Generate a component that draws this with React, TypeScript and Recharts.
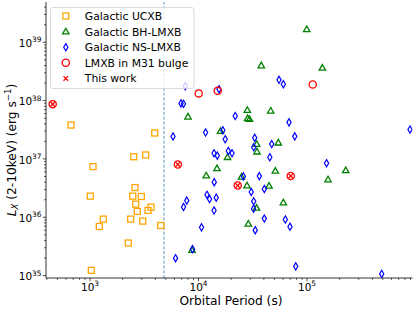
import { Legend, ReferenceLine, Scatter, ScatterChart, XAxis, YAxis } from "recharts";

const FONT = "DejaVu Sans, sans-serif";

// Galactic UCXB: orbital period (s), L_X (erg/s)
const ucxbPeriod = [668, 3950, 2530, 3260, 1066, 2600, 1006, 2475, 2970, 2637, 2729, 3650, 3425, 1326, 2372, 3060, 1218, 4485, 2254, 1028];
const ucxbLx = [3.81e37, 2.78e37, 1.09e37, 1.17e37, 7.4e36, 3.23e36, 2.3e36, 2.3e36, 2.27e36, 1.68e36, 1.26e36, 1.49e36, 1.31e36, 9.3e35, 9.3e35, 8.6e35, 6.96e35, 7.24e35, 3.62e35, 1.23e35];

// Galactic BH-LMXB
const bhPeriod = [99400, 37900, 138400, 28180, 46260, 28300, 29510, 8000, 15950, 34380, 34600, 54350, 18500, 14810, 11780, 24900, 27990, 44660, 51030, 34260, 60500, 28770, 8710, 156200, 227300];
const bhLx = [1.67e39, 4.0e38, 3.64e38, 6.88e37, 6.7e37, 4.96e37, 4.83e37, 5.29e37, 3.01e37, 1.8e37, 1.33e37, 1.9e37, 1.07e37, 6.88e36, 5.19e36, 4.92e36, 3.5e36, 3.45e36, 6.24e36, 1.45e36, 1.79e36, 7.74e35, 2.73e35, 4.43e36, 6.36e36];

// Galactic NS-LMXB
const nsPeriod = [7560, 15450, 6900, 7275, 55210, 60500, 21790, 5820, 11610, 16750, 17620, 32960, 32260, 68240, 77070, 47290, 889500, 13900, 14900, 18830, 20360, 45400, 151300, 25880, 36340, 13960, 11980, 12630, 14560, 7790, 7275, 13900, 30600, 40400, 32260, 32140, 10660, 33320, 40400, 63100, 69680, 8810, 6140, 78700, 487700];
const nsLx = [1.77e38, 1.57e38, 8.96e37, 8.82e37, 2.27e38, 1.91e38, 5.43e37, 2.43e37, 2.84e37, 3.11e37, 2.18e37, 2.3e37, 1.59e37, 4.24e37, 2.44e37, 1.8e37, 3.19e37, 1.25e37, 1.14e37, 1.37e37, 1.25e37, 1.07e37, 8.44e36, 5.02e36, 5.08e36, 4.0e36, 2.43e36, 2.06e36, 2.17e36, 1.93e36, 1.5e36, 1.31e36, 2.71e36, 3.05e36, 1.88e36, 1.4e36, 6.72e35, 6.01e35, 9.5e35, 9.17e35, 6.88e35, 2.84e35, 1.99e35, 1.44e35, 1.07e35];

// LMXB in M31 bulge
const m31Period = [453, 6450, 22970, 70760, 10040, 15030, 112900];
const m31Lx = [8.7e37, 8.05e36, 3.5e36, 5.12e36, 1.33e38, 1.47e38, 1.89e38];

// this work
const twPeriod = [453, 6450, 22970, 70760];
const twLx = [8.7e37, 8.05e36, 3.5e36, 5.12e36];

const dividePeriod = 4800;

const xMajor = [1e3, 1e4, 1e5];
const yMajor = [1e35, 1e36, 1e37, 1e38, 1e39];
const xDomain = [393, 937600];
const yDomain = [9.1e34, 4.9e39];

const zip = (p: number[], l: number[]) => p.map((period, i) => ({ period, lx: l[i] }));

const withMinor = (majors: number[], lo: number, hi: number) => {
  const out: number[] = [];
  for (let e = Math.log10(majors[0]) - 1; e <= Math.log10(majors[majors.length - 1]); e++) {
    for (let m = 1; m < 10; m++) {
      const v = m * Math.pow(10, e);
      if (v >= lo && v <= hi) out.push(v);
    }
  }
  return out;
};

const xTicks = withMinor(xMajor, xDomain[0], xDomain[1]);
const yTicks = withMinor(yMajor, yDomain[0], yDomain[1]);

const isMajor = (v: number) => Math.abs(Math.log10(v) - Math.round(Math.log10(v))) < 1e-6;

const XTick = (props: any) => {
  const { x, y, payload } = props;
  const major = isMajor(payload.value);
  const e = Math.round(Math.log10(payload.value));
  return (
    <g>
      <line x1={x} x2={x} y1={y} y2={y + (major ? 3.2 : 1.8)} stroke="#000" strokeWidth={0.7} />
      {major && (
        <text x={x} y={y + 12.7} textAnchor="middle" fontSize={10.5} fontFamily={FONT} fill="#000">
          10<tspan fontSize={7.4} dy={-4.7}>{e}</tspan>
        </text>
      )}
    </g>
  );
};

const YTick = (props: any) => {
  const { x, y, payload } = props;
  const major = isMajor(payload.value);
  const e = Math.round(Math.log10(payload.value));
  return (
    <g>
      <line x1={x} x2={x - (major ? 3.2 : 1.8)} y1={y} y2={y} stroke="#000" strokeWidth={0.7} />
      {major && (
        <text x={x - 4.5} y={y + 4.6} textAnchor="end" fontSize={10.5} fontFamily={FONT} fill="#000">
          10<tspan fontSize={7.4} dy={-4.7}>{e}</tspan>
        </text>
      )}
    </g>
  );
};

const square = (cx: number, cy: number) => (
  <rect x={cx - 3} y={cy - 3} width={6} height={6} fill="none" stroke="#ffa500" strokeWidth={1.3} />
);
const triangle = (cx: number, cy: number) => (
  <path d={`M${cx},${cy - 3.3} L${cx + 3.2},${cy + 2.3} L${cx - 3.2},${cy + 2.3} Z`} fill="none" stroke="#008000" strokeWidth={1.3} />
);
const diamond = (cx: number, cy: number) => (
  <path d={`M${cx},${cy - 3.6} L${cx + 2.1},${cy} L${cx},${cy + 3.6} L${cx - 2.1},${cy} Z`} fill="none" stroke="#0000ff" strokeWidth={1.2} />
);
const circle = (cx: number, cy: number) => (
  <circle cx={cx} cy={cy} r={3.6} fill="none" stroke="#ff0000" strokeWidth={1.3} />
);
const cross = (cx: number, cy: number) => (
  <path d={`M${cx - 2.3},${cy - 2.3} L${cx + 2.3},${cy + 2.3} M${cx - 2.3},${cy + 2.3} L${cx + 2.3},${cy - 2.3}`} stroke="#ff0000" strokeWidth={1.3} />
);

const legendRows = [
  { label: "Galactic UCXB", mark: square },
  { label: "Galactic BH-LMXB", mark: triangle },
  { label: "Galactic NS-LMXB", mark: diamond },
  { label: "LMXB in M31 bulge", mark: circle },
  { label: "This work", mark: cross },
];

const LegendBox = () => (
  <svg width={146} height={83} style={{ display: "block" }}>
    <rect x={0.5} y={0.5} width={143.5} height={81} rx={2.5} fill="#fff" fillOpacity={0.8} stroke="#d0d0d0" strokeWidth={0.8} />
    {legendRows.map((r, i) => {
      const cy = 9 + i * 15.6;
      return (
        <g key={r.label}>
          {r.mark(15.8, cy)}
          <text x={34.8} y={cy + 3.9} fontSize={10.8} fontFamily={FONT} fill="#000">
            {r.label}
          </text>
        </g>
      );
    })}
  </svg>
);

const axisLine = { stroke: "#000", strokeWidth: 0.8 };

export default function App() {
  return (
    <div style={{ position: "absolute", left: 0, top: 0, background: "#fff" }}>
      <ScatterChart width={415} height={309} margin={{ top: 2, right: 2.5, bottom: 0, left: 0 }}>
        <XAxis
          dataKey="period"
          type="number"
          scale="log"
          domain={xDomain}
          allowDataOverflow
          ticks={xTicks}
          interval={0}
          tick={<XTick />}
          tickLine={false}
          tickSize={0}
          tickMargin={0}
          height={31}
          axisLine={axisLine}
          label={{
            content: () => (
              <text x={231} y={305} textAnchor="middle" fontSize={12.2} fontFamily={FONT} fill="#000">
                Orbital Period (s)
              </text>
            ),
          }}
        />
        <XAxis xAxisId="top" orientation="top" dataKey="period" type="number" scale="log" domain={xDomain} allowDataOverflow height={0} tick={false} tickLine={false} axisLine={axisLine} />
        <YAxis
          dataKey="lx"
          type="number"
          scale="log"
          domain={yDomain}
          allowDataOverflow
          ticks={yTicks}
          interval={0}
          tick={<YTick />}
          tickLine={false}
          tickSize={0}
          tickMargin={0}
          width={46}
          axisLine={axisLine}
          label={{
            content: () => (
              <text x={15.5} y={150} transform="rotate(-90 15.5 150)" textAnchor="middle" fontSize={12.2} fontFamily={FONT} fill="#000">
                <tspan fontStyle="italic">L</tspan>
                <tspan fontStyle="italic" fontSize={8.6} dy={2.4}>X</tspan>
                <tspan dy={-2.4}> (2-10keV) (erg s</tspan>
                <tspan fontSize={8.6} dy={-4.8}>−1</tspan>
                <tspan dy={4.8}>)</tspan>
              </text>
            ),
          }}
        />
        <YAxis yAxisId="right" orientation="right" dataKey="lx" type="number" scale="log" domain={yDomain} allowDataOverflow width={0} tick={false} tickLine={false} axisLine={axisLine} />
        <ReferenceLine x={dividePeriod} stroke="#8fbbd9" strokeWidth={1.5} strokeDasharray="3 1.8" />
        <Scatter name="Galactic UCXB" data={zip(ucxbPeriod, ucxbLx)} shape={(p: any) => square(p.cx, p.cy)} isAnimationActive={false} />
        <Scatter name="Galactic BH-LMXB" data={zip(bhPeriod, bhLx)} shape={(p: any) => triangle(p.cx, p.cy)} isAnimationActive={false} />
        <Scatter name="Galactic NS-LMXB" data={zip(nsPeriod, nsLx)} shape={(p: any) => diamond(p.cx, p.cy)} isAnimationActive={false} />
        <Scatter name="LMXB in M31 bulge" data={zip(m31Period, m31Lx)} shape={(p: any) => circle(p.cx, p.cy)} isAnimationActive={false} />
        <Scatter name="This work" data={zip(twPeriod, twLx)} shape={(p: any) => cross(p.cx, p.cy)} isAnimationActive={false} />
        <Legend
          layout="vertical"
          align="center"
          verticalAlign="middle"
          wrapperStyle={{ left: 50.2, top: 6.8, width: 146, height: 83 }}
          content={() => <LegendBox />}
        />
      </ScatterChart>
    </div>
  );
}
